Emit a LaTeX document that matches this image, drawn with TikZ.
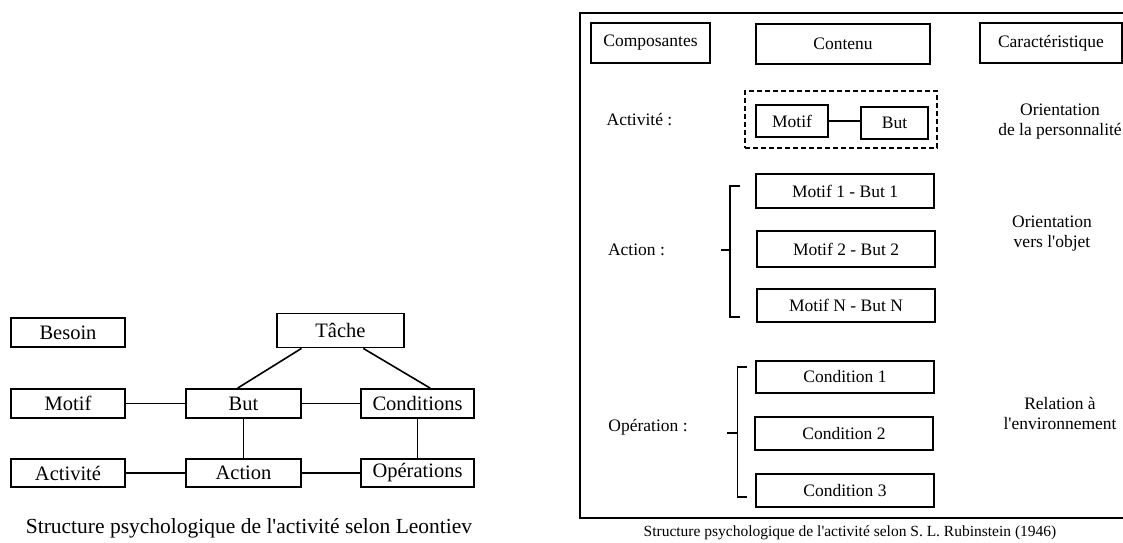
\documentclass[tikz,border=0pt]{standalone}
\usepackage{fontspec}
\setmainfont{Liberation Serif}
\usetikzlibrary{calc}
\newcommand{\sq}{\textquotesingle}
\begin{document}
\begin{tikzpicture}[x=1pt,y=-1pt,
  lbox/.style={draw,line width=1.8pt,inner sep=0pt,font=\fontsize{20.5}{24}\selectfont},
  rbox/.style={draw,line width=1.2pt,inner sep=0pt,font=\fontsize{17.5}{20}\selectfont},
  rtext/.style={inner sep=0pt,align=center,font=\fontsize{17.5}{20}\selectfont},
  lconn/.style={line width=1.6pt},
  rconn/.style={line width=1.2pt}]
\clip (0,0) rectangle (1123,542);
\useasboundingbox (0,0) rectangle (1123,542);
% ---------- left: Leontiev ----------
\node[lbox,minimum width=114,minimum height=29] (besoin) at (68,332.5) {Besoin};
\node[lbox,minimum width=127,minimum height=34] (tache) at (340.5,330.5) {Tâche};
\node[lbox,minimum width=114,minimum height=29] (motif) at (68,403.5) {Motif};
\node[lbox,minimum width=115,minimum height=29] (but) at (243.5,403.5) {But};
\node[lbox,minimum width=113,minimum height=29] (cond) at (417.5,403.5) {Conditions};
\node[lbox,minimum width=114,minimum height=28] (activ) at (68,473) {Activité};
\node[lbox,minimum width=115,minimum height=28] (action) at (243.5,473) {Action};
\node[lbox,minimum width=113,minimum height=28] (oper) at (417.5,473) {Opérations};
\draw[lconn] (motif) -- (but);
\draw[lconn] (but) -- (cond);
\draw[lconn] (activ) -- (action);
\draw[lconn] (action) -- (oper);
\draw[lconn] (but) -- (action);
\draw[lconn] (cond) -- (oper);
\draw[lconn] ($(tache.south west)!0.197!(tache.south east)$) -- ($(but.north west)!0.45!(but.north east)$);
\draw[lconn] ($(tache.south west)!0.677!(tache.south east)$) -- ($(cond.north west)!0.61!(cond.north east)$);
\node[inner sep=0pt,font=\fontsize{21.5}{25}\selectfont] (capL) at (249,528) {Structure psychologique de l\sq activité selon Leontiev};
% ---------- right: Rubinstein ----------
\draw[line width=1.5pt] (580,13) rectangle (1128,518);
\node[rbox,minimum width=119,minimum height=40] (compo) at (650.5,43) {Composantes};
\node[rbox,minimum width=174,minimum height=40] (conten) at (843,44) {Contenu};
\node[rbox,minimum width=142,minimum height=40] (carac) at (1051,43) {Caractéristique};
\node[rtext] (activlab) at (639.5,120) {Activité :};
\node[draw,dash pattern=on 5pt off 3pt,line width=1.2pt,minimum width=192,minimum height=57,inner sep=0pt] (dash) at (841,119.5) {};
\node[rbox,minimum width=72,minimum height=32] (imotif) at (792,121) {Motif};
\node[rbox,minimum width=67,minimum height=32] (ibut) at (894.5,123) {But};
\draw[rconn] (imotif.east) -- (ibut.west |- imotif.east);
\node[rtext] (orient1) at (1060,122) {Orientation\\de la personnalité};
\node[rbox,minimum width=178,minimum height=34] (mb1) at (845,191) {Motif 1 - But 1};
\node[rbox,minimum width=178,minimum height=36] (mb2) at (846,249) {Motif 2 - But 2};
\node[rbox,minimum width=178,minimum height=33] (mbn) at (846,305.5) {Motif N - But N};
\node[rtext] (actionlab) at (636.5,250) {Action :};
\coordinate (b1a) at (740,186);
\coordinate (b1b) at (730,186);
\coordinate (b1c) at (730,317);
\coordinate (b1d) at (740,317);
\coordinate (b1m) at (730,250);
\coordinate (b1t) at (721,250);
\draw[rconn] (b1a) -- (b1b) -- (b1c) -- (b1d);
\draw[line width=2pt] (b1m) -- (b1t);
\node[rtext] (orient2) at (1052,233.5) {Orientation\\vers l\sq objet};
\node[rbox,minimum width=178,minimum height=32] (c1) at (845,377) {Condition 1};
\node[rbox,minimum width=178,minimum height=33] (c2) at (844,433.5) {Condition 2};
\node[rbox,minimum width=178,minimum height=33] (c3) at (845,490.5) {Condition 3};
\node[rtext] (operlab) at (648,427) {Opération :};
\coordinate (b2a) at (746.5,367);
\coordinate (b2b) at (737.5,367);
\coordinate (b2c) at (737.5,497);
\coordinate (b2d) at (746.5,497);
\coordinate (b2m) at (737.5,433);
\coordinate (b2t) at (727,433);
\draw[rconn] (b2a) -- (b2b) -- (b2c) -- (b2d);
\draw[line width=2pt] (b2m) -- (b2t);
\node[rtext] (relation) at (1060,413) {Relation à\\l\sq environnement};
\node[inner sep=0pt,font=\fontsize{15.5}{18}\selectfont] (capR) at (850,533) {Structure psychologique de l\sq activité selon S. L. Rubinstein (1946)};
\end{tikzpicture}
\end{document}
